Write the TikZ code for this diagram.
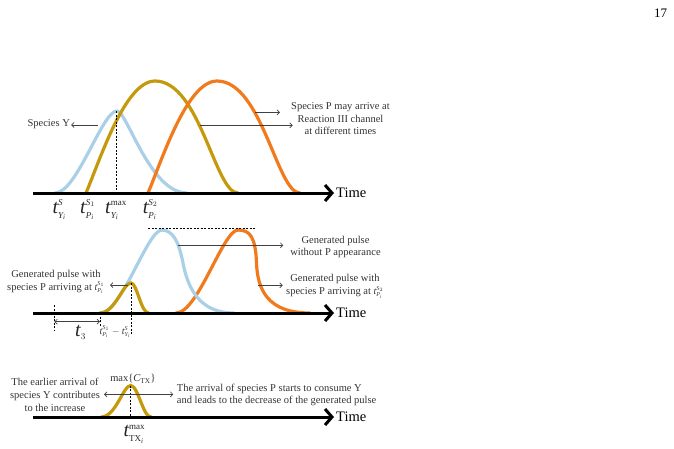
\documentclass[tikz,border=0pt]{standalone}
\usepackage{fontspec}
\setmainfont{Liberation Serif}
\usetikzlibrary{arrows.meta}
\DeclareMathSizes{20}{20}{9}{7}
\DeclareMathSizes{10}{10}{6}{5}
\definecolor{pulseblue}{HTML}{A9D0E6}
\definecolor{pulsegold}{HTML}{C49A0C}
\definecolor{pulseorange}{HTML}{F07A1C}
\newcommand{\tvar}[2]{$\mathit{t}^{#1}_{#2}$}
\begin{document}
\begin{tikzpicture}[x=1pt,y=-1pt]
\tikzstyle{note} = [
 align=center,
 inner sep=1pt,
 text=black!80,
 font=\fontsize{10.5}{12.8}\selectfont
]
\tikzstyle{bigt} = [anchor=base west, inner sep=0pt, text=black!85, font=\fontsize{20}{22}\selectfont]
\tikzstyle{smallt} = [anchor=base west, inner sep=0pt, text=black!80, font=\fontsize{10}{12}\selectfont]
\tikzstyle{timelabel} = [anchor=west, inner sep=2pt, font=\fontsize{14.5}{16}\selectfont]
\tikzstyle{timeaxis} = [line width=3pt, -{Straight Barb[length=7pt,width=16pt]}]
\tikzstyle{pulse} = [line width=3.2pt, line cap=round]
\tikzstyle{guide} = [dash pattern=on 2pt off 1.5pt, line width=0.6pt]
\tikzstyle{pointer} = [line width=0.7pt, black!75, -{Straight Barb[length=2.5pt,width=5pt]}]
\tikzstyle{span} = [line width=0.7pt, black!75, {Straight Barb[length=2.5pt,width=5pt]}-{Straight Barb[length=2.5pt,width=5pt]}]

\useasboundingbox (0,0) rectangle (674,448);
\node[font=\fontsize{13}{15}\selectfont] at (660.5,13) (page) {17};

% arrival of species Y and P
\draw[pulse, pulseblue] (55,193) .. controls (77,193) and (102,111) .. (117,111)
  .. controls (127,111) and (150,193) .. (187,193);
\draw[pulse, pulsegold] (86,193) .. controls (100,160) and (125,81) .. (155,81)
  .. controls (200,81) and (215,193) .. (238,193);
\draw[pulse, pulseorange] (148,193) .. controls (162,160) and (187,81) .. (217,81)
  .. controls (262,81) and (277,193) .. (300,193);

\node[timelabel] at (334,193) (time1) {Time};
\coordinate (o1) at (33,193);
\draw[timeaxis] (o1) -- (time1.west);

\coordinate (ypeak) at (116.3,111);
\draw[guide] (ypeak) -- (ypeak |- o1);

\node[bigt] at (52.3,213) (tYs) {\tvar{\mathit{S}}{\mathit{Y}_{\mathit{i}}}};
\node[bigt] at (80,213) (tPs1) {\tvar{\mathit{S}_1}{\mathit{P}_{\mathit{i}}}};
\node[bigt] at (105,213) (tYmax) {\tvar{\mathrm{max}}{\mathit{Y}_{\mathit{i}}}};
\node[bigt] at (142.7,213) (tPs2) {\tvar{\mathit{S}_2}{\mathit{P}_{\mathit{i}}}};

\node[note] at (48.7,124.3) (specY) {Species Y};
\node[note] at (340.5,118.7) (specP) {Species P may arrive at\\Reaction III channel\\at different times};
\coordinate (yside) at (98.3,125);
\coordinate (p2side) at (255,112.3);
\coordinate (p2end) at (280,112.3);
\coordinate (p1side) at (200,125.3);
\coordinate (p1end) at (292.7,125.3);
\draw[pointer] (yside) -- (yside -| specY.east);
\draw[pointer] (p2side) -- (p2end);
\draw[pointer] (p1side) -- (p1end);

% generated pulses
\draw[pulse, pulseorange] (176,313) .. controls (198,313) and (223,230) .. (238,230)
  .. controls (250,230) and (255.5,237) .. (256.5,263)
  .. controls (257.5,290) and (268,313) .. (310,313);
\draw[pulse, pulseblue] (100,313) .. controls (122,313) and (147,230) .. (162,230)
  .. controls (173,230) and (179,242.5) .. (183,263)
  .. controls (188,289) and (200,313) .. (234,313);
\draw[pulse, pulsegold] (100,313) .. controls (115,313) and (123,283) .. (131,283)
  .. controls (137,283) and (141,313) .. (148.5,313);

\node[timelabel] at (334,313) (time2) {Time};
\coordinate (o2) at (33,313);
\draw[timeaxis] (o2) -- (time2.west);

\draw[guide] (148,228.3) -- (255,228.3);
\draw[guide] (54.3,305) -- (54.3,330);
\draw[guide] (100,313) -- (100,326);
\coordinate (s1peak) at (131,283);
\draw[guide] (s1peak) -- (131,335);

\coordinate (t3a) at (54.3,321.7);
\coordinate (t3b) at (100,321.7);
\draw[span] (t3a) -- (t3b);
\node[bigt] at (75,336.7) (t3) {$\mathit{t}_3$};
\node[smallt] at (99.3,334) (gap) {$\mathit{t}^{\mathit{S}_1}_{\mathit{P}_{\mathit{i}}}-\mathit{t}^{\mathit{S}}_{\mathit{Y}_{\mathit{i}}}$};

\node[note] at (56,281.7) (withS1) {Generated pulse with\\species P arriving at {\fontsize{10}{12}\selectfont\tvar{\mathit{S}_1}{\mathit{P}_{\mathit{i}}}}};
\node[note] at (335.5,247) (noP) {Generated pulse\\without P appearance};
\node[note] at (335,286.3) (withS2) {Generated pulse with\\species P arriving at {\fontsize{10}{12}\selectfont\tvar{\mathit{S}_2}{\mathit{P}_{\mathit{i}}}}};
\coordinate (gside) at (128.3,285);
\coordinate (gend) at (110,285);
\coordinate (bside) at (178.3,245.3);
\coordinate (bend) at (283.3,245.3);
\coordinate (oside) at (258.3,285.3);
\coordinate (oend) at (282.7,285.3);
\draw[pointer] (gside) -- (gend);
\draw[pointer] (bside) -- (bend);
\draw[pointer] (oside) -- (oend);

% maximum of the generated pulse
\draw[pulse, pulsegold] (101,417) .. controls (116,417) and (123,385.5) .. (130.7,385.5)
  .. controls (138,385.5) and (143,417) .. (151,417);

\node[timelabel] at (334,417) (time3) {Time};
\coordinate (o3) at (33,417);
\draw[timeaxis] (o3) -- (time3.west);

\coordinate (txpeak) at (130.7,385.5);
\draw[guide] (txpeak) -- (txpeak |- o3);

\node[note] at (133,378.8) (cmax) {max\{$\mathit{C}_{\mathrm{TX}}$\}};
\node[note] at (55,395) (early) {The earlier arrival of\\species Y contributes\\to the increase};
\node[note, align=left, anchor=west] at (175.7,395) (consume) {The arrival of species P starts to consume Y\\and leads to the decrease of the generated pulse};
\node[bigt] at (123.3,436.7) (ttx) {\tvar{\mathrm{max}}{\mathrm{TX}_{\mathit{i}}}};

\coordinate (txmid) at (130.7,394.3);
\coordinate (txleft) at (104,394.3);
\coordinate (txright) at (173.3,394.3);
\draw[pointer] (txmid) -- (txleft);
\draw[pointer] (txmid) -- (txright);
\end{tikzpicture}
\end{document}
